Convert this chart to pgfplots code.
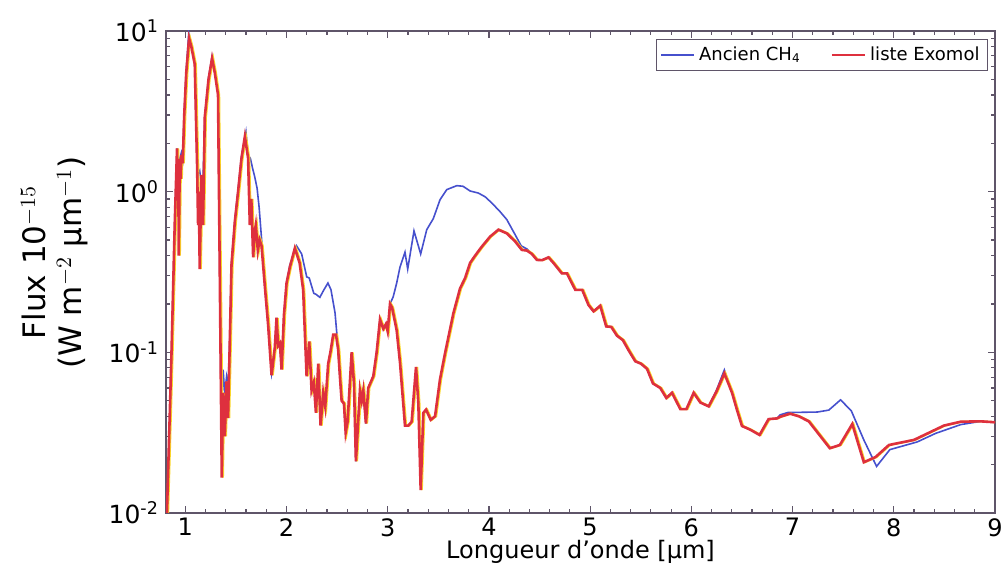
\documentclass[border=0pt]{standalone}
\usepackage{fontspec}
\setmainfont{DejaVu Sans}
\usepackage{pgfplots}
\usepackage{pgfplotstable}
\pgfplotsset{compat=1.18}
\definecolor{cblue}{RGB}{70,80,205}
\definecolor{cred}{RGB}{222,48,62}
\definecolor{cyel}{RGB}{250,215,40}
\definecolor{frame}{RGB}{95,85,105}
\pgfplotstableread{
x y
0.815 0.008
0.863 0.092
0.896 0.62
0.919 1.86
0.93 1.5
0.946 1.6
0.962 1.75
0.975 1.6
0.990 3.1
1.010 5.7
1.035 9.7
1.060 8.3
1.094 6.3
1.117 1.5
1.13 1.3
1.143 1.35
1.16 1.1
1.176 1.2
1.193 2.9
1.230 5.1
1.265 6.9
1.292 5.6
1.324 4.1
1.351 0.075
1.361 0.05
1.374 0.078
1.391 0.055
1.408 0.07
1.423 0.06
1.440 0.12
1.457 0.36
1.490 0.66
1.522 1.02
1.555 1.65
1.600 2.35
1.621 1.7
1.645 1.6
1.665 1.4
1.685 1.25
1.71 1.05
1.73 0.8
1.754 0.51
1.786 0.26
1.819 0.148
1.853 0.075
1.885 0.107
1.902 0.164
1.918 0.11
1.935 0.114
1.952 0.08
1.975 0.17
2.001 0.27
2.034 0.35
2.10 0.46
2.15 0.41
2.20 0.295
2.225 0.29
2.27 0.233
2.29 0.23
2.33 0.22
2.37 0.245
2.41 0.27
2.44 0.245
2.48 0.176
2.50 0.126
2.528 0.071
2.545 0.050
2.568 0.048
2.585 0.0317
2.604 0.037
2.644 0.10
2.667 0.064
2.686 0.021
2.726 0.058
2.743 0.050
2.759 0.058
2.785 0.036
2.808 0.060
2.858 0.071
2.891 0.10
2.924 0.16
2.957 0.14
2.983 0.15
3.000 0.135
3.023 0.20
3.055 0.222
3.089 0.27
3.122 0.34
3.171 0.42
3.198 0.33
3.228 0.43
3.260 0.57
3.326 0.41
3.386 0.58
3.451 0.68
3.517 0.89
3.584 1.03
3.683 1.09
3.745 1.08
3.814 1.01
3.896 0.98
3.962 0.93
4.029 0.85
4.111 0.75
4.177 0.67
4.259 0.54
4.319 0.46
4.375 0.44
4.424 0.41
4.474 0.376
4.526 0.375
4.589 0.39
4.638 0.36
4.721 0.31
4.771 0.31
4.853 0.245
4.922 0.245
4.984 0.197
5.034 0.18
5.100 0.195
5.159 0.145
5.209 0.144
5.265 0.127
5.324 0.119
5.380 0.103
5.446 0.088
5.502 0.085
5.562 0.079
5.621 0.064
5.693 0.060
5.753 0.052
5.809 0.056
5.891 0.0443
5.951 0.0443
6.023 0.056
6.089 0.0487
6.171 0.0461
6.248 0.058
6.326 0.0777
6.402 0.056
6.451 0.0438
6.500 0.0348
6.582 0.033
6.674 0.0306
6.763 0.0384
6.847 0.0388
6.876 0.0408
6.953 0.0422
7.244 0.0425
7.358 0.0437
7.474 0.0506
7.580 0.0433
7.704 0.0285
7.830 0.0195
7.961 0.0248
8.232 0.0277
8.413 0.0313
8.661 0.0355
8.859 0.0372
9.0 0.0366
}\bluedata
\pgfplotstableread{
x y
0.815 0.008
0.863 0.092
0.896 0.62
0.919 1.86
0.926 0.9
0.931 1.6
0.936 0.40
0.946 1.5
0.955 1.2
0.962 1.69
0.975 1.5
0.990 3.0
1.010 5.5
1.038 9.0
1.060 8.0
1.094 6.2
1.117 1.47
1.127 0.62
1.134 1.0
1.143 0.33
1.160 1.27
1.176 0.62
1.193 2.9
1.230 5.0
1.265 6.76
1.292 5.5
1.324 4.0
1.351 0.072
1.361 0.0166
1.374 0.056
1.391 0.030
1.408 0.066
1.423 0.039
1.440 0.115
1.457 0.35
1.490 0.65
1.522 1.0
1.555 1.6
1.589 2.2
1.621 1.62
1.638 0.62
1.653 0.9
1.671 0.39
1.684 0.55
1.697 0.62
1.717 0.43
1.735 0.5
1.754 0.46
1.786 0.26
1.819 0.148
1.853 0.072
1.885 0.107
1.902 0.164
1.918 0.11
1.935 0.114
1.952 0.078
1.975 0.17
2.001 0.27
2.034 0.34
2.083 0.445
2.130 0.36
2.165 0.245
2.199 0.071
2.225 0.117
2.248 0.058
2.270 0.065
2.291 0.042
2.314 0.085
2.337 0.035
2.363 0.056
2.383 0.046
2.412 0.085
2.434 0.10
2.462 0.129
2.489 0.129
2.511 0.104
2.528 0.071
2.545 0.050
2.568 0.048
2.585 0.0317
2.604 0.037
2.644 0.10
2.667 0.064
2.686 0.021
2.726 0.058
2.743 0.050
2.759 0.058
2.785 0.036
2.808 0.060
2.858 0.071
2.891 0.10
2.924 0.16
2.957 0.14
2.983 0.15
3.000 0.135
3.023 0.20
3.043 0.19
3.089 0.137
3.122 0.086
3.171 0.035
3.204 0.035
3.237 0.037
3.280 0.081
3.303 0.048
3.326 0.0139
3.352 0.042
3.379 0.044
3.425 0.038
3.468 0.040
3.517 0.068
3.567 0.099
3.649 0.175
3.715 0.25
3.765 0.29
3.814 0.36
3.864 0.40
3.930 0.455
4.012 0.525
4.094 0.58
4.177 0.55
4.259 0.49
4.325 0.434
4.375 0.43
4.424 0.41
4.474 0.376
4.526 0.375
4.589 0.39
4.638 0.36
4.721 0.31
4.771 0.31
4.853 0.245
4.922 0.245
4.984 0.197
5.034 0.18
5.100 0.195
5.159 0.145
5.209 0.144
5.265 0.127
5.324 0.119
5.380 0.103
5.446 0.088
5.502 0.085
5.562 0.079
5.621 0.064
5.693 0.060
5.753 0.052
5.809 0.056
5.891 0.0443
5.951 0.0443
6.023 0.056
6.089 0.0487
6.171 0.0461
6.248 0.057
6.326 0.074
6.402 0.056
6.451 0.0438
6.500 0.0348
6.582 0.033
6.674 0.0306
6.763 0.0384
6.847 0.0388
6.876 0.0397
6.975 0.0415
7.061 0.040
7.160 0.0372
7.368 0.0253
7.467 0.0265
7.590 0.0358
7.704 0.0207
7.820 0.0223
7.952 0.0265
8.199 0.0285
8.495 0.035
8.661 0.037
8.859 0.0372
9.0 0.0367
}\reddata
\begin{document}
\begin{tikzpicture}
\begin{axis}[
  scale only axis,
  width=414.5pt, height=241pt,
  ymode=log,
  xmin=0.81, xmax=9, ymin=0.01, ymax=10,
  xtick={1,2,3,4,5,6,7,8,9},
  xticklabels={1,2,3,4,5,6,7,8,9},
  minor x tick num=4,
  ytick={0.01,0.1,1,10},
  yticklabels={10\textsuperscript{-2},10\textsuperscript{-1},10\textsuperscript{0},10\textsuperscript{1}},
  tick align=inside,
  major tick length=3.5pt, minor tick length=2pt,
  every tick/.style={frame, line width=0.6pt},
  axis line style={frame, line width=0.6pt},
  tick label style={font=\fontsize{12.5}{15}\selectfont},
  xticklabel style={font=\fontsize{12}{14}\selectfont, inner sep=0pt, yshift=-2.5pt},
  xlabel={Longueur d'onde [µm]},
  xlabel style={font=\fontsize{12}{13}\selectfont, inner sep=0pt, yshift=-1.8pt},
  ylabel={Flux 10$^{-15}$\\(W m$^{-2}$ µm$^{-1}$)},
  ylabel style={font=\fontsize{15.5}{18}\selectfont, align=center, at={(axis description cs:-0.0855,0.52)}, anchor=south},
  legend columns=2,
  legend style={font=\fontsize{9}{10}\selectfont, draw=frame, line width=0.5pt,
    at={(rel axis cs:1,1)}, anchor=north east, xshift=-3.5pt, yshift=-4pt,
    inner xsep=2pt, inner ysep=1.5pt,
    /tikz/every even column/.append style={column sep=13pt}},
  legend image code/.code={\draw[#1] (0pt,0pt) -- (16.5pt,0pt);},
]
\addplot[cblue, line width=0.8pt] table[x=x,y=y] {\bluedata};
\addlegendentry{Ancien CH\textsubscript{4}}
\addplot[cyel, line width=1pt, xshift=0.6pt, forget plot] table[x=x,y=y] {\reddata};
\addplot[cred, line width=1.3pt] table[x=x,y=y] {\reddata};
\addlegendentry{liste Exomol}
\end{axis}
\pgfresetboundingbox
\path ([shift={(-83pt,-25.5pt)}]current axis.south west) rectangle ([shift={(4.5pt,15.5pt)}]current axis.north east);
\end{tikzpicture}
\end{document}
